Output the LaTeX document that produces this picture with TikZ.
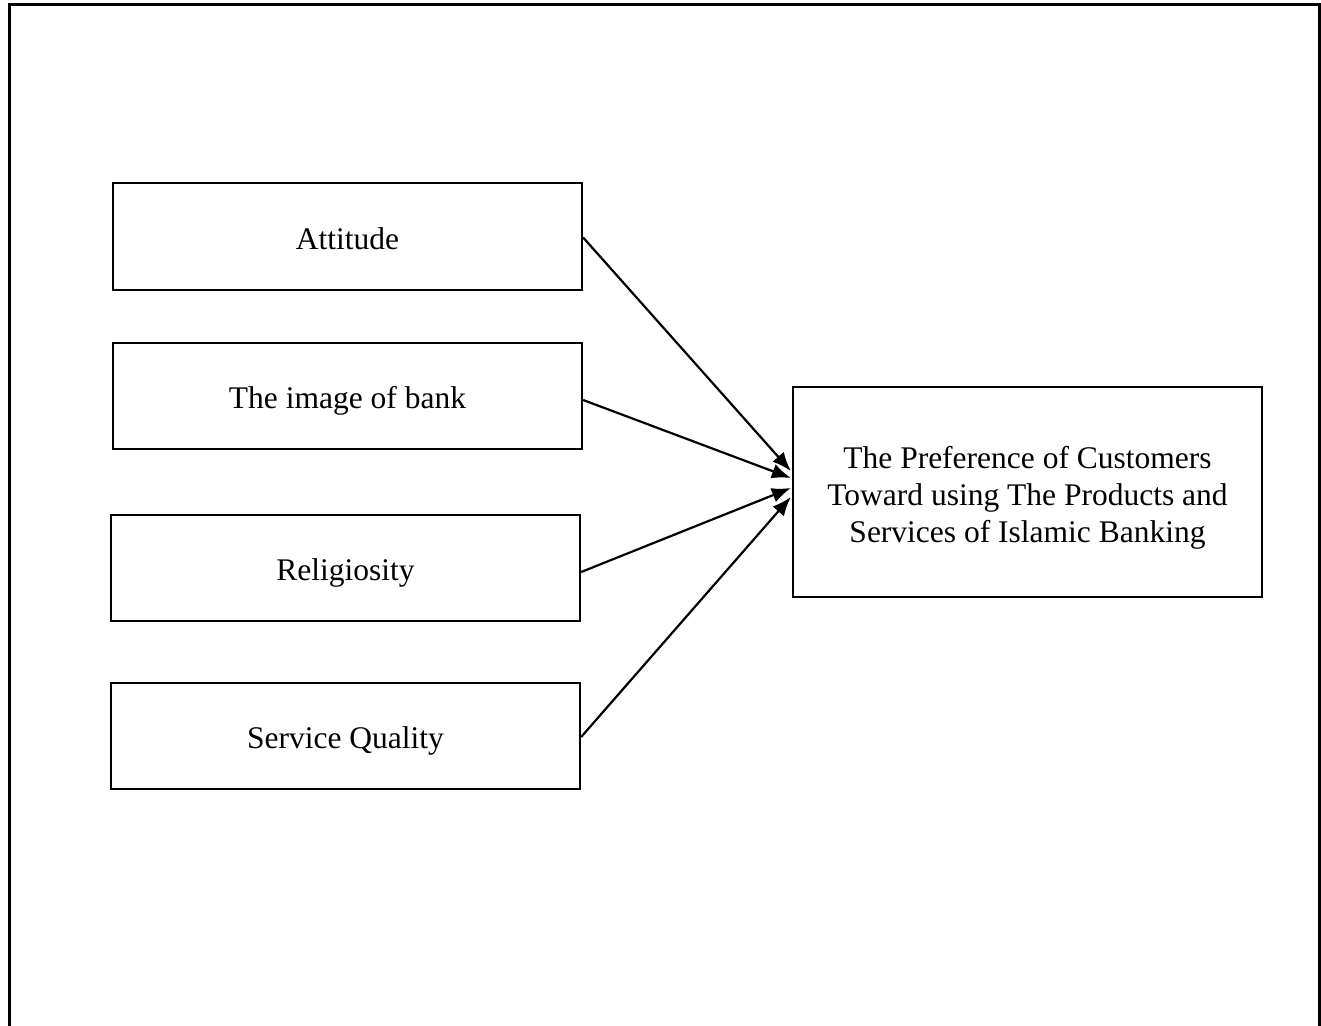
\documentclass[tikz,border=0pt]{standalone}
\usepackage{fontspec}
\setmainfont{Liberation Serif}
\usetikzlibrary{arrows.meta,calc}
\begin{document}
\begin{tikzpicture}[x=1pt,y=-1pt,
  factor/.style={draw,line width=2.3pt,minimum width=469pt,minimum height=106pt,
    inner sep=0pt,align=center,text height=25pt,text depth=0pt,
    font=\fontsize{31.5}{37}\selectfont},
  link/.style={line width=2.2pt,-{Latex[length=19pt,width=15pt]}}]
  \useasboundingbox (0,0) rectangle (1321,1025);
  % open outer frame (no bottom edge)
  \draw[line width=3pt] (9.5,1040) -- (9.5,5) -- (1319,5) -- (1319,1040);
  % factors
  \node[factor,minimum height=107pt] (att) at (347.5,236.5) {Attitude};
  \node[factor] (img) at (347.5,396) {The image of bank};
  \node[factor] (rel) at (345.5,568) {Religiosity};
  \node[factor] (sq) at (345.5,736) {Service Quality};
  % outcome
  \node[factor,minimum height=210pt,text height=100pt] (pref) at (1027.5,492)
    {The Preference of Customers\\Toward using The Products and\\Services of Islamic Banking};
  % arrow targets on the outcome's left side
  \coordinate (t1) at ($(pref.west)+(-1,-21)$);
  \coordinate (t2) at ($(pref.west)+(-1,-14)$);
  \coordinate (t3) at ($(pref.west)+(-1,-4)$);
  \coordinate (t4) at ($(pref.west)+(-1,5)$);
  \draw[link] ($(att.east)+(0,1)$) -- (t1);
  \draw[link] ($(img.east)+(0,4)$) -- (t2);
  \draw[link] ($(rel.east)+(0,4)$) -- (t3);
  \draw[link] ($(sq.east)+(0,1)$) -- (t4);
\end{tikzpicture}
\end{document}
